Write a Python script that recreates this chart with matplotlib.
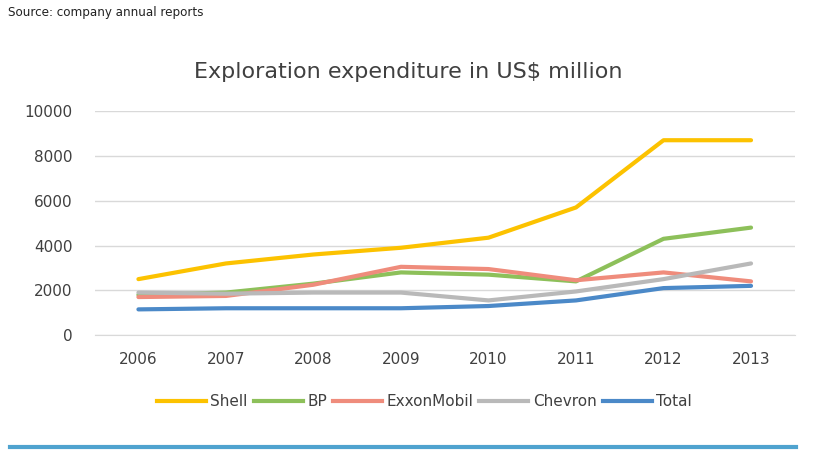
import matplotlib.pyplot as plt
from matplotlib.lines import Line2D

years = ["2006", "2007", "2008", "2009", "2010", "2011", "2012", "2013"]
shell = [2500, 3200, 3600, 3900, 4350, 5700, 8700, 8700]
bp = [1800, 1900, 2300, 2800, 2700, 2400, 4300, 4800]
exxon = [1700, 1750, 2250, 3050, 2950, 2450, 2800, 2400]
chevron = [1900, 1850, 1900, 1900, 1550, 1950, 2500, 3200]
total = [1150, 1200, 1200, 1200, 1300, 1550, 2100, 2200]

series = [("Shell", shell, "#fcc200"), ("BP", bp, "#8dc05a"),
          ("ExxonMobil", exxon, "#ef8c7c"), ("Chevron", chevron, "#b9b9b9"),
          ("Total", total, "#4b89c8")]

fig = plt.figure(figsize=(8.16, 4.61), dpi=100)
ax = fig.add_axes([0.116, 0.273, 0.858, 0.486])
x = range(len(years))
for name, vals, col in series:
    ax.plot(x, vals, color=col, lw=3, label=name, solid_capstyle="round")

ax.set_xlim(-0.5, len(years) - 0.5)
ax.set_ylim(0, 10000)
ax.set_yticks(range(0, 10001, 2000))
ax.set_xticks(list(x))
ax.set_xticklabels(years)
ax.grid(axis="y", color="#d9d9d9", lw=1)
ax.set_axisbelow(True)
for s in ["top", "right", "left"]:
    ax.spines[s].set_visible(False)
ax.spines["bottom"].set_color("#d9d9d9")
ax.tick_params(length=0, labelsize=11, colors="#404040", pad=12)
ax.tick_params(axis="y", pad=16)

fig.text(0.5, 0.83, "Exploration expenditure in US$ million", ha="center",
         fontsize=16, color="#404040")
fig.text(0.01, 0.965, "Source: company annual reports", fontsize=9.5,
         color="#222222", fontstretch="condensed")

handles = [Line2D([], [], color=c, lw=3) for _, _, c in series]
fig.legend(handles, [n for n, _, _ in series], loc="center",
           bbox_to_anchor=(0.52, 0.128), ncol=5, frameon=False, fontsize=11,
           handlelength=3.2, columnspacing=0.4, handletextpad=0.3,
           labelcolor="#404040")

fig.add_artist(Line2D([0.012, 0.975], [0.03, 0.03], color="#4fa3cf", lw=3))

fig.savefig("out.png", dpi=100)
